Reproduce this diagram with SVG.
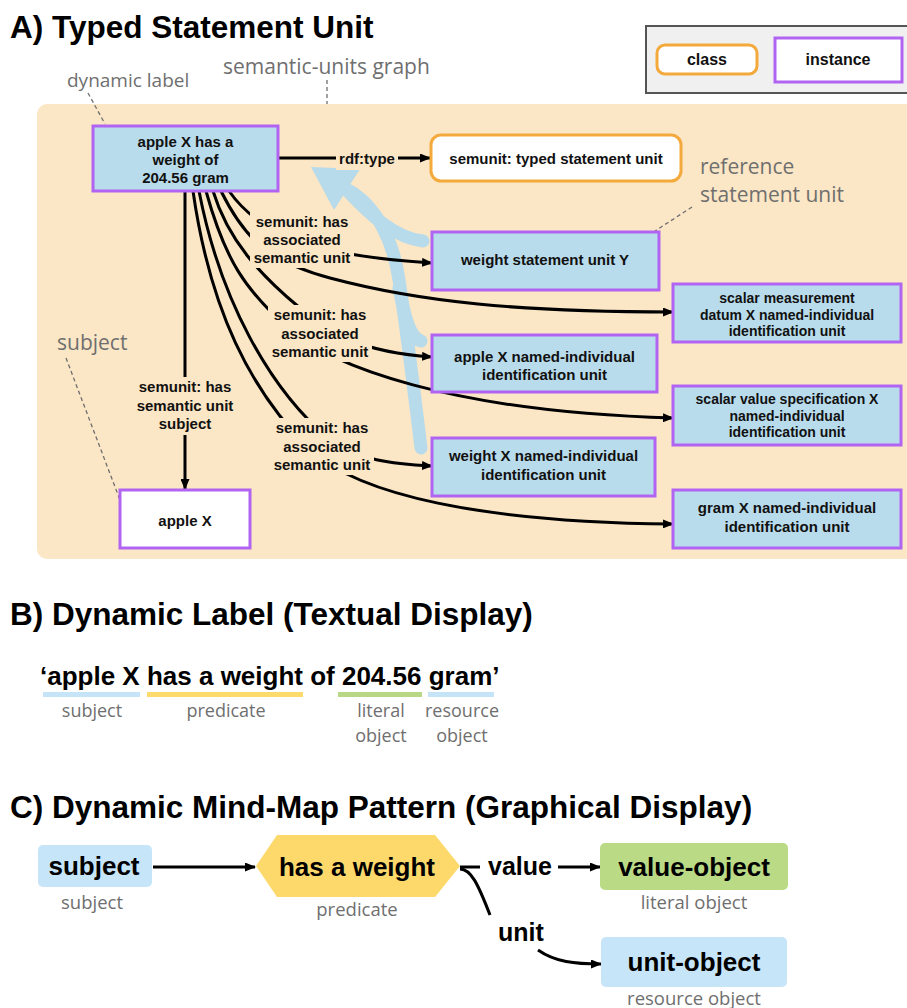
<svg xmlns="http://www.w3.org/2000/svg" width="907" height="1008" viewBox="0 0 907 1008">
  <style>
    .h { font: bold 31.5px "Liberation Sans", Arial, sans-serif; fill: #000; }
    .b15 { font: bold 15px "Liberation Sans", Arial, sans-serif; fill: #111; text-anchor: middle; }
    .b14 { font: bold 14px "Liberation Sans", Arial, sans-serif; fill: #111; text-anchor: middle; }
    .b16 { font: bold 16px "Liberation Sans", Arial, sans-serif; fill: #111; text-anchor: middle; }
    .b26 { font: bold 26px "Liberation Sans", Arial, sans-serif; fill: #000; text-anchor: middle; }
    .b25 { font: bold 25px "Liberation Sans", Arial, sans-serif; fill: #000; text-anchor: middle; }
    .gray { font-family: "Open Sans", "Noto Sans", sans-serif; fill: #6f6f6f; }
    .mid { text-anchor: middle; }
    .inst { fill: #b9dcec; stroke: #b164f2; stroke-width: 3; }
    .instw { fill: #ffffff; stroke: #b164f2; stroke-width: 3; }
    .cls { fill: #ffffff; stroke: #f4a93c; stroke-width: 3; }
    .edge { fill: none; stroke: #000; stroke-width: 3; }
    .mask { fill: #fbe6c5; }
    .lead { fill: none; stroke: #6f6f6f; stroke-width: 1.3; stroke-dasharray: 4 3; }
    .ref { fill: none; stroke: #b7dbeb; stroke-width: 13; stroke-linecap: round; }
  </style>
  <defs>
    <marker id="ah" markerUnits="userSpaceOnUse" markerWidth="11" markerHeight="9" refX="10" refY="4.5" orient="auto">
      <path d="M0,0 L11,4.5 L0,9 z" fill="#000"/>
    </marker>
  </defs>

  <!-- ===== A) Typed Statement Unit ===== -->
  <text class="h" x="10" y="38">A) Typed Statement Unit</text>

  <!-- legend -->
  <g id="legend">
    <rect x="646" y="26" width="270" height="67" fill="#f0f0f0" stroke="#555" stroke-width="2"/>
    <rect x="657" y="45" width="100" height="29" rx="8" class="cls"/>
    <text class="b16" x="707" y="65">class</text>
    <rect x="775" y="38" width="127" height="44" class="instw"/>
    <text class="b16" x="838" y="65">instance</text>
  </g>

  <!-- graph panel -->
  <rect x="37" y="104" width="880" height="455" rx="10" fill="#fbe6c5"/>

  <!-- annotations -->
  <g id="annotations">
    <text class="gray" x="67" y="87" font-size="19">dynamic label</text>
    <path class="lead" d="M88,93 L105,124"/>
    <text class="gray" x="223" y="74" font-size="21">semantic-units graph</text>
    <path class="lead" d="M327,80 L327,104"/>
    <text class="gray" x="700" y="174" font-size="21">reference</text>
    <text class="gray" x="700" y="202" font-size="21">statement unit</text>
    <path class="lead" d="M692,207 L655,231"/>
    <text class="gray" x="57" y="350" font-size="21">subject</text>
    <path class="lead" d="M66,358 L120,500"/>
  </g>

  <!-- connectors -->
  <g id="connectors">
    <!-- reference statement unit link (thick blue) -->
    <path class="ref" d="M421,448 C414,390 405,320 399,280 C394,245 378,205 346,189"/>
    <path class="ref" d="M346,189 C370,215 395,238 423,241"/>
    <path class="ref" d="M399,288 C405,318 410,338 421,341"/>
    <polygon points="311,167 360,169 334,210" fill="#b7dbeb"/>

    <!-- rdf:type -->
    <path class="edge" d="M278,158 L430,158" marker-end="url(#ah)"/>
    <!-- has semantic unit subject -->
    <path class="edge" d="M185,191 L185,489" marker-end="url(#ah)"/>
    <!-- has associated semantic unit -->
    <path class="edge" d="M229,191 C262,238 320,256 432,263" marker-end="url(#ah)"/>
    <path class="edge" d="M221,191 C245,240 270,262 330,278 C420,302 520,312 673,312" marker-end="url(#ah)"/>
    <path class="edge" d="M213,191 C228,240 260,275 300,308 C330,333 360,352 432,357" marker-end="url(#ah)"/>
    <path class="edge" d="M206,191 C225,260 245,290 290,330 C330,365 450,412 673,418" marker-end="url(#ah)"/>
    <path class="edge" d="M199,191 C220,300 270,390 330,440 C360,460 390,464 432,466" marker-end="url(#ah)"/>
    <path class="edge" d="M193,191 C210,310 250,390 310,450 C360,495 480,522 673,524" marker-end="url(#ah)"/>

    <!-- edge labels -->
    <rect class="mask" x="336" y="148" width="62" height="22"/>
    <text class="b15" x="367" y="164">rdf:type</text>

    <rect class="mask" x="133" y="377" width="104" height="58"/>
    <text class="b15" x="185" y="392">semunit: has</text>
    <text class="b15" x="185" y="411">semantic unit</text>
    <text class="b15" x="185" y="429">subject</text>

    <rect class="mask" x="250" y="212" width="104" height="56"/>
    <text class="b15" x="302" y="227">semunit: has</text>
    <text class="b15" x="302" y="245">associated</text>
    <text class="b15" x="302" y="263">semantic unit</text>

    <rect class="mask" x="268" y="305" width="104" height="57"/>
    <text class="b15" x="320" y="320">semunit: has</text>
    <text class="b15" x="320" y="339">associated</text>
    <text class="b15" x="320" y="357">semantic unit</text>

    <rect class="mask" x="270" y="418" width="104" height="57"/>
    <text class="b15" x="322" y="433">semunit: has</text>
    <text class="b15" x="322" y="452">associated</text>
    <text class="b15" x="322" y="470">semantic unit</text>
  </g>

  <!-- nodes -->
  <g id="n-dynamic-label">
    <rect x="93" y="126" width="185" height="65" class="inst"/>
    <text class="b15" x="185.5" y="147">apple X has a</text>
    <text class="b15" x="185.5" y="165">weight of</text>
    <text class="b15" x="185.5" y="183">204.56 gram</text>
  </g>
  <g id="n-typed-statement-unit">
    <rect x="431" y="135" width="250" height="46" rx="10" class="cls"/>
    <text class="b15" x="556" y="164">semunit: typed statement unit</text>
  </g>
  <g id="n-weight-statement-unit">
    <rect x="432" y="232" width="227" height="58" class="inst"/>
    <text class="b15" x="545" y="265">weight statement unit Y</text>
  </g>
  <g id="n-scalar-measurement">
    <rect x="673" y="284" width="228" height="58" class="inst"/>
    <text class="b14" x="787" y="303">scalar measurement</text>
    <text class="b14" x="787" y="320">datum X named-individual</text>
    <text class="b14" x="787" y="336">identification unit</text>
  </g>
  <g id="n-apple-named">
    <rect x="432" y="335" width="225" height="57" class="inst"/>
    <text class="b15" x="544.5" y="362">apple X named-individual</text>
    <text class="b15" x="544.5" y="380">identification unit</text>
  </g>
  <g id="n-scalar-value">
    <rect x="673" y="386" width="228" height="59" class="inst"/>
    <text class="b14" x="787" y="404">scalar value specification X</text>
    <text class="b14" x="787" y="421">named-individual</text>
    <text class="b14" x="787" y="437">identification unit</text>
  </g>
  <g id="n-weight-named">
    <rect x="432" y="438" width="223" height="58" class="inst"/>
    <text class="b15" x="543.5" y="461">weight X named-individual</text>
    <text class="b15" x="543.5" y="480">identification unit</text>
  </g>
  <g id="n-gram-named">
    <rect x="673" y="490" width="228" height="58" class="inst"/>
    <text class="b15" x="787" y="513">gram X named-individual</text>
    <text class="b15" x="787" y="532">identification unit</text>
  </g>
  <g id="n-apple-subject">
    <rect x="120" y="490" width="130" height="58" class="instw"/>
    <text class="b15" x="185" y="526">apple X</text>
  </g>

  <!-- ===== B) Dynamic Label ===== -->
  <text class="h" x="10" y="625">B) Dynamic Label (Textual Display)</text>
  <g id="dynamic-label-text">
    <text x="40" y="685" font-family="Liberation Sans, Arial, sans-serif" font-weight="bold" font-size="26" fill="#000">‘apple X has a weight of 204.56 gram’</text>
    <rect x="43" y="692" width="97" height="5" fill="#c5e4f7"/>
    <rect x="147" y="692" width="156" height="5" fill="#fcdb6c"/>
    <rect x="338" y="692" width="84" height="5" fill="#b8d886"/>
    <rect x="428" y="692" width="66" height="5" fill="#c5e4f7"/>
    <text class="gray mid" x="92" y="717" font-size="18">subject</text>
    <text class="gray mid" x="226" y="717" font-size="18">predicate</text>
    <text class="gray mid" x="381" y="717" font-size="18">literal</text>
    <text class="gray mid" x="381" y="742" font-size="18">object</text>
    <text class="gray mid" x="462" y="717" font-size="18">resource</text>
    <text class="gray mid" x="462" y="742" font-size="18">object</text>
  </g>

  <!-- ===== C) Dynamic Mind-Map Pattern ===== -->
  <text class="h" x="10" y="818">C) Dynamic Mind-Map Pattern (Graphical Display)</text>
  <g id="mm-connectors">
    <path class="edge" d="M153,867 L255,867" marker-end="url(#ah)"/>
    <path class="edge" d="M460,867 L480,867"/>
    <path class="edge" d="M558,867 L600,867" marker-end="url(#ah)"/>
    <path class="edge" d="M460,869 C471,869 478,884 490,915"/>
    <path class="edge" d="M538,950 C555,962 575,964 601,964" marker-end="url(#ah)"/>
    <text class="b25" x="520" y="875">value</text>
    <text class="b25" x="521" y="941">unit</text>
  </g>
  <g id="mm-subject">
    <rect x="38" y="845" width="114" height="42" rx="5" fill="#c6e5f8"/>
    <text class="b26" x="94" y="875">subject</text>
    <text class="gray mid" x="92" y="909" font-size="18.5">subject</text>
  </g>
  <g id="mm-predicate">
    <polygon points="256,866 277,835 435,835 460,866 435,897 277,897" fill="#fdd96b"/>
    <text class="b26" x="357" y="876">has a weight</text>
    <text class="gray mid" x="357" y="916" font-size="18.5">predicate</text>
  </g>
  <g id="mm-value-object">
    <rect x="600" y="843" width="188" height="47" rx="5" fill="#bada86"/>
    <text class="b26" x="694" y="876">value-object</text>
    <text class="gray mid" x="694" y="909" font-size="18.5">literal object</text>
  </g>
  <g id="mm-unit-object">
    <rect x="601" y="937" width="186" height="50" rx="5" fill="#c6e5f8"/>
    <text class="b26" x="694" y="971">unit-object</text>
    <text class="gray mid" x="694" y="1005" font-size="18.5">resource object</text>
  </g>
</svg>
